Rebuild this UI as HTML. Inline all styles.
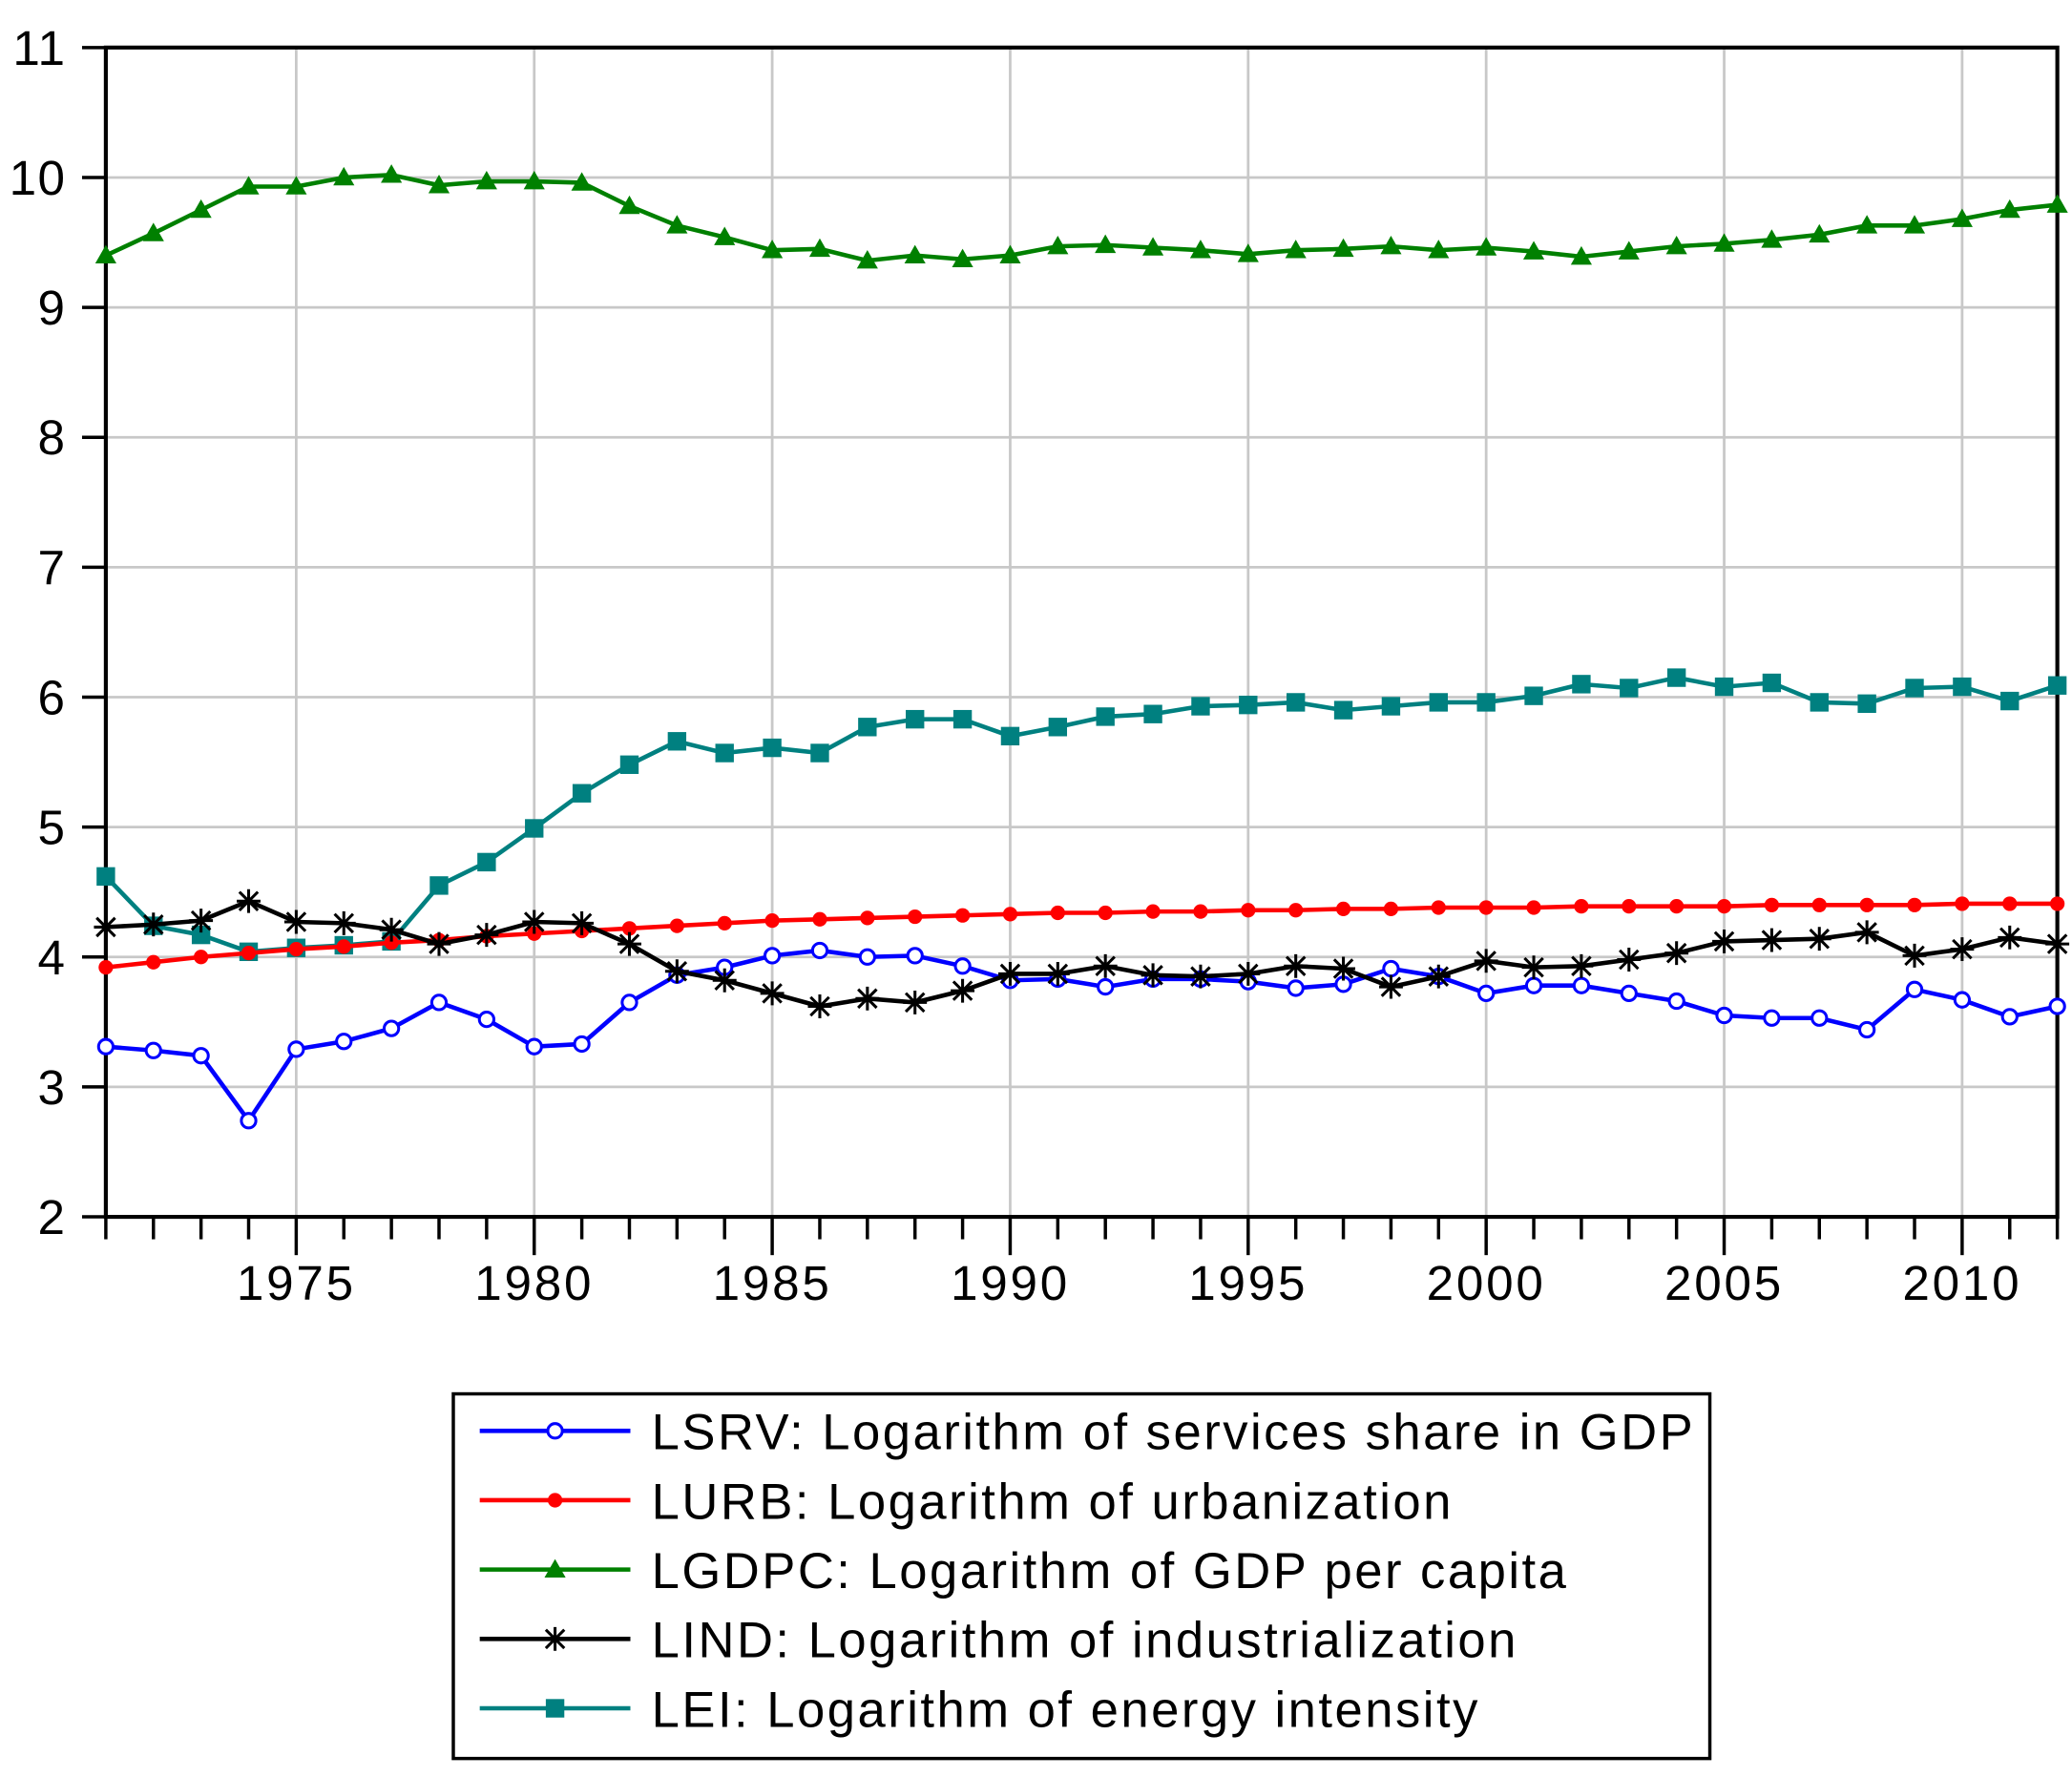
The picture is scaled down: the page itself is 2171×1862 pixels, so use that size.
<!DOCTYPE html>
<html><head><meta charset="utf-8"><style>html,body{margin:0;padding:0;background:#fff}svg{display:block}</style></head>
<body>
<svg id="chart" width="2171" height="1862" viewBox="0 0 1568 1345" xmlns="http://www.w3.org/2000/svg" font-family="Liberation Sans, Arial, sans-serif">
<rect width="1568" height="1345" fill="#fff"/>
<g id="grid"></g>
<g id="axes"></g>
<g id="series"></g>
<g id="legend"></g>
</svg>
<script>
const years = [];
for (let y = 1971; y <= 2012; y++) years.push(y);
const yTicks = [2,3,4,5,6,7,8,9,10,11];
const xTickLabels = [1975,1980,1985,1990,1995,2000,2005,2010];
const lgdpc = [9.4,9.57,9.75,9.93,9.93,10.0,10.02,9.94,9.97,9.97,9.96,9.78,9.63,9.54,9.44,9.45,9.36,9.40,9.37,9.40,9.47,9.48,9.46,9.44,9.41,9.44,9.45,9.47,9.44,9.46,9.43,9.39,9.43,9.47,9.49,9.52,9.56,9.63,9.63,9.68,9.75,9.79];
const lei = [4.62,4.24,4.17,4.04,4.07,4.09,4.12,4.55,4.73,4.99,5.26,5.48,5.66,5.57,5.61,5.57,5.77,5.83,5.83,5.70,5.77,5.85,5.87,5.93,5.94,5.96,5.90,5.93,5.96,5.96,6.01,6.10,6.07,6.15,6.08,6.11,5.96,5.95,6.07,6.08,5.97,6.09];
const lurb = [3.92,3.96,4.00,4.03,4.06,4.08,4.11,4.13,4.16,4.18,4.20,4.22,4.24,4.26,4.28,4.29,4.30,4.31,4.32,4.33,4.34,4.34,4.35,4.35,4.36,4.36,4.37,4.37,4.38,4.38,4.38,4.39,4.39,4.39,4.39,4.40,4.40,4.40,4.40,4.41,4.41,4.41];
const lind = [4.23,4.25,4.28,4.43,4.27,4.26,4.21,4.10,4.17,4.27,4.26,4.10,3.89,3.82,3.72,3.62,3.68,3.65,3.74,3.87,3.87,3.93,3.86,3.85,3.87,3.93,3.91,3.77,3.85,3.97,3.92,3.93,3.98,4.03,4.12,4.13,4.14,4.19,4.01,4.06,4.15,4.10];
const lsrv = [3.31,3.28,3.24,2.74,3.29,3.35,3.45,3.65,3.52,3.31,3.33,3.65,3.86,3.92,4.01,4.05,4.00,4.01,3.93,3.82,3.83,3.77,3.83,3.83,3.81,3.76,3.79,3.91,3.85,3.72,3.78,3.78,3.72,3.66,3.55,3.53,3.53,3.44,3.75,3.67,3.54,3.62];

const NS = "http://www.w3.org/2000/svg";
const L = 80, R = 1557, T = 36, B = 921;
const xs = y => L + (y - 1971) * (R - L) / 41;
const ys = v => B - (v - 2) * (B - T) / 9;
function mk(tag, attrs, parent) {
  const e = document.createElementNS(NS, tag);
  for (const k in attrs) e.setAttribute(k, attrs[k]);
  parent.appendChild(e);
  return e;
}
const grid = document.getElementById('grid'), axes = document.getElementById('axes');
const series = document.getElementById('series'), legend = document.getElementById('legend');

yTicks.forEach(v => {
  if (v > 2 && v < 11) {
    const g = mk('line', {x1:L, x2:R, y1:ys(v), y2:ys(v), stroke:'#c8c8c8', 'stroke-width':2}, grid);
    
    
  }
  const t = mk('line', {x1:L-18, x2:L, y1:ys(v), y2:ys(v), stroke:'#000', 'stroke-width':2.5}, axes);
  
  
  const lb = mk('text', {x:50, y:ys(v)+13, 'text-anchor':'end', 'font-size':37, 'letter-spacing':1}, axes);
  lb.textContent = v;
  
  
});
years.forEach(y => {
  const major = y % 5 === 0;
  if (major) {
    const g = mk('line', {x1:xs(y), x2:xs(y), y1:T, y2:B, stroke:'#c8c8c8', 'stroke-width':2}, grid);
    
    
  }
  const t = mk('line', {x1:xs(y), x2:xs(y), y1:B, y2:B + (major ? 29 : 17), stroke:'#000', 'stroke-width':2.5}, axes);
  
  
});
xTickLabels.forEach(y => {
  const lb = mk('text', {x:xs(y), y:984, 'text-anchor':'middle', 'font-size':37, 'letter-spacing':2}, axes);
  lb.textContent = y;
  
  
});
const frame = mk('path', {d:`M${L},${T}H${R}V${B}H${L}Z`, fill:'none', stroke:'#000', 'stroke-width':3}, axes);



function marker(type, x, y, color, parent) {
  let m;
  if (type === 'circle') m = mk('circle', {cx:x, cy:y, r:5.5, fill:'#fff', stroke:color, 'stroke-width':2.2}, parent);
  else if (type === 'dot') m = mk('circle', {cx:x, cy:y, r:5.5, fill:color}, parent);
  else if (type === 'tri') m = mk('path', {d:`M${x},${y-8}L${x+8},${y+6}L${x-8},${y+6}Z`, fill:color}, parent);
  else if (type === 'square') m = mk('rect', {x:x-7, y:y-7, width:14, height:14, fill:color}, parent);
  else {
    m = mk('path', {d:`M${x-9},${y}H${x+9}M${x},${y-9}V${y+9}M${x-7},${y-7}L${x+7},${y+7}M${x-7},${y+7}L${x+7},${y-7}`, stroke:color, 'stroke-width':2.2}, parent);
  }
  return m;
}
const defs = [
  {key:'lsrv', vals:lsrv, color:'#0000ff', m:'circle', label:'LSRV: Logarithm of services share in GDP'},
  {key:'lurb', vals:lurb, color:'#ff0000', m:'dot', label:'LURB: Logarithm of urbanization'},
  {key:'lgdpc', vals:lgdpc, color:'#008000', m:'tri', label:'LGDPC: Logarithm of GDP per capita'},
  {key:'lind', vals:lind, color:'#000000', m:'star', label:'LIND: Logarithm of industrialization'},
  {key:'lei', vals:lei, color:'#008080', m:'square', label:'LEI: Logarithm of energy intensity'}
];
const drawOrder = ['lgdpc','lei','lurb','lsrv','lind'];
drawOrder.forEach(k => {
  const s = defs.find(d => d.key === k);
  const g = mk('g', {}, series);
  
  
  const pts = s.vals.map((v, i) => xs(years[i]) + ',' + ys(v)).join(' ');
  const pl = mk('polyline', {points:pts, fill:'none', stroke:s.color, 'stroke-width':3.3}, g);
  
  
  s.vals.forEach((v, i) => {
    const mm = marker(s.m, xs(years[i]), ys(v), s.color, g);
    
    
  });
});

const box = mk('rect', {x:343, y:1055, width:951, height:276, fill:'#fff', stroke:'#000', 'stroke-width':2.5}, legend);


defs.forEach((s, i) => {
  const y = 1083 + i * 52.5;
  const g = mk('g', {}, legend);
  
  
  mk('line', {x1:363, x2:477, y1:y, y2:y, stroke:s.color, 'stroke-width':3.3}, g);
  marker(s.m, 420, y, s.color, g);
  const t = mk('text', {x:493, y:y+14, 'font-size':38, 'letter-spacing':1.8}, g);
  t.textContent = s.label;
  
  
});
</script>
</body></html>
